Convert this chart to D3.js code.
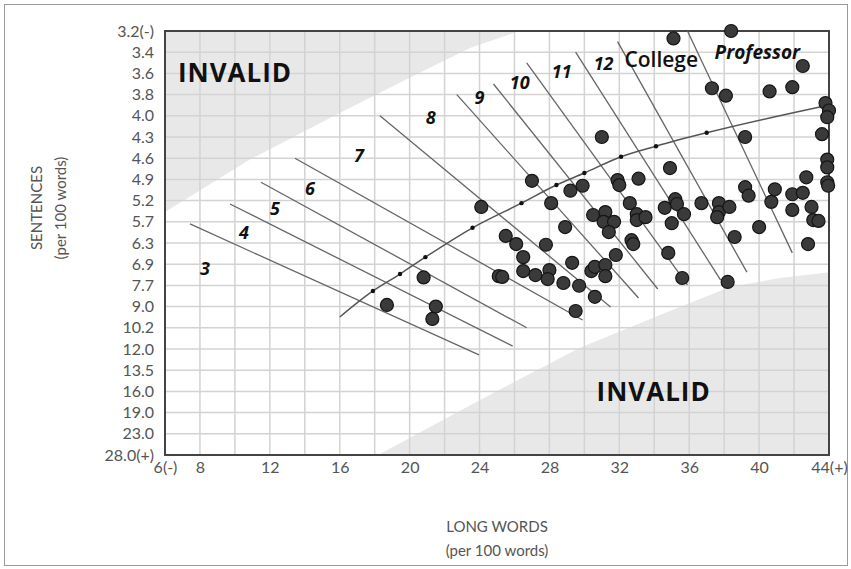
<!DOCTYPE html>
<html>
<head>
<meta charset="utf-8">
<title>Raygor Readability Estimate</title>
<script src="https://d3js.org/d3.v7.min.js"></script>
<style>
  body { margin: 0; background: #fff; }
  svg { display: block; font-family: "Lato", "Noto Sans", sans-serif; }
</style>
</head>
<body>
<svg width="851" height="569"></svg>
<script>
// axis ticks (y axis is not linear, every tick gets the same spacing)
var sentenceTicks = [3.2, 3.4, 3.6, 3.8, 4.0, 4.3, 4.6, 4.9, 5.2, 5.7, 6.3, 6.9, 7.7, 9.0, 10.2, 12.0, 13.5, 16.0, 19.0, 23.0, 28.0];
var sentenceLabels = ["3.2(-)", "3.4", "3.6", "3.8", "4.0", "4.3", "4.6", "4.9", "5.2", "5.7", "6.3", "6.9", "7.7", "9.0", "10.2", "12.0", "13.5", "16.0", "19.0", "23.0", "28.0(+)"];
var wordTicks = [6, 8, 12, 16, 20, 24, 28, 32, 36, 40, 44];
var wordLabels = ["6(-)", "8", "12", "16", "20", "24", "28", "32", "36", "40", "44(+)"];
var wordGrid = [6, 8, 10, 12, 14, 16, 18, 20, 22, 24, 26, 28, 30, 32, 34, 36, 38, 40, 42, 44];

// samples
var longWords = [18.7, 20.8, 21.5, 21.3, 24.1, 25.1, 25.3, 25.5, 26.1, 26.5, 26.5, 27.0, 27.2, 27.8, 28.0, 27.9, 28.1, 28.8, 28.9, 29.2,
  29.9, 29.3, 29.7, 29.5, 30.6, 30.5, 31.2, 31.1, 31.7, 31.4, 31.9, 32.0, 33.1, 32.6, 33.0, 33.0, 33.5, 32.7, 32.8, 31.8,
  30.4, 30.6, 31.2, 31.2, 31.0, 34.6, 35.2, 35.3, 35.7, 35.0, 36.7, 37.7, 37.7, 37.6, 38.3, 38.6, 34.8, 35.6, 38.2, 39.2,
  39.4, 40.9, 41.9, 42.5, 40.7, 41.9, 43.0, 43.1, 43.4, 40.0, 42.8, 42.7, 43.9, 43.9, 43.9, 43.95, 35.1, 38.4, 42.5, 37.3,
  38.1, 40.6, 41.9, 43.8, 44.0, 43.9, 43.6, 39.2, 34.9];
var sentences = [8.9, 7.4, 9.0, 9.7, 5.35, 7.35, 7.38, 6.1, 6.33, 6.7, 7.16, 4.92, 7.31, 6.35, 7.12, 7.46, 5.26, 7.61, 5.85, 5.06,
  4.99, 6.86, 7.72, 9.25, 8.4, 5.54, 5.47, 5.7, 5.7, 5.99, 4.91, 4.98, 4.89, 5.26, 5.52, 5.66, 5.59, 6.22, 6.33, 6.64,
  7.16, 7.0, 6.93, 7.35, 4.3, 5.37, 5.18, 5.28, 5.52, 5.74, 5.26, 5.26, 5.47, 5.59, 5.35, 6.13, 6.58, 7.42, 7.57, 5.01,
  5.13, 5.04, 5.11, 5.09, 5.23, 5.42, 5.35, 5.66, 5.68, 5.85, 6.33, 4.87, 4.62, 4.73, 4.94, 4.99, 3.27, 3.2, 3.53, 3.74,
  3.81, 3.77, 3.73, 3.88, 3.95, 4.02, 4.26, 4.3, 4.74];

// the curve with its small markers
var curveWords = [16.0, 17.9, 19.45, 20.9, 23.6, 26.4, 28.4, 30.0, 32.1, 34.1, 37.0, 43.95];
var curveSentences = [9.59, 8.04, 7.27, 6.7, 5.87, 5.26, 4.98, 4.81, 4.58, 4.43, 4.24, 3.9];

// grade boundary lines
var gradeStartWords = [7.43, 9.72, 11.49, 13.44, 18.3, 22.7, 24.8, 26.7, 29.5, 31.9, 35.9];
var gradeStartSentences = [5.76, 5.28, 4.94, 4.6, 4.0, 3.8, 3.7, 3.5, 3.4, 3.3, 3.2];
var gradeEndWords = [23.97, 25.9, 26.7, 29.9, 31.5, 33.1, 34.2, 35.9, 37.8, 39.3, 41.9];
var gradeEndSentences = [12.42, 11.75, 10.2, 9.76, 9.02, 8.47, 7.92, 7.68, 7.5, 7.2, 6.58];

// grade names
var gradeNames = ["3", "4", "5", "6", "7", "8", "9", "10", "11", "12", "College", "Professor"];
var gradeNameWords = [8.29, 10.52, 12.3, 14.3, 17.1, 21.2, 24.0, 26.3, 28.7, 31.1, 34.4, 39.9];
var gradeNameSentences = [7.04, 5.99, 5.37, 5.02, 4.55, 4.02, 3.82, 3.68, 3.58, 3.5, 3.47, 3.4];

// invalid zones
var upperWords = [6, 10.86, 15.44, 20.0, 23.45, 26.3];
var upperSentences = [5.47, 4.62, 4.03, 3.64, 3.36, 3.2];
var lowerWords = [18.19, 24.03, 29.75, 34.33, 38.33, 41.2, 44];
var lowerSentences = [28.0, 17.2, 11.9, 9.48, 7.8, 7.42, 7.2];

var svg = d3.select("svg"),
    plotLeft = 165, plotRight = 829, plotTop = 31, plotBottom = 455;

var step = (plotBottom - plotTop) / (sentenceTicks.length - 1);

var x = d3.scaleLinear().domain([6, 44]).range([plotLeft, plotRight]);
var y = d3.scaleLinear().domain(sentenceTicks)
          .range(sentenceTicks.map(function(d, i) { return plotTop + i * step; }));

// outer frame
svg.append("rect")
   .attr("x", 4.5).attr("y", 4.5)
   .attr("width", 843).attr("height", 561)
   .attr("fill", "none").attr("stroke", "#9a9a9a");

// invalid zones
var upperPts = upperWords.map(function(d, i) { return [x(d), y(upperSentences[i])]; });
upperPts.push([x(6), y(3.2)]);
svg.append("path")
   .attr("d", d3.line().curve(d3.curveLinearClosed)(upperPts))
   .attr("fill", "#e8e8e8");

var lowerPts = lowerWords.map(function(d, i) { return [x(d), y(lowerSentences[i])]; });
lowerPts.push([x(44), y(28.0)]);
svg.append("path")
   .attr("d", d3.line().curve(d3.curveLinearClosed)(lowerPts))
   .attr("fill", "#e8e8e8");

// grid
svg.append("g").selectAll("line")
   .data(sentenceTicks).enter().append("line")
   .attr("x1", plotLeft).attr("x2", plotRight)
   .attr("y1", function(d) { return y(d); })
   .attr("y2", function(d) { return y(d); })
   .attr("stroke", "#d3d3d3").attr("stroke-width", 1.5);

svg.append("g").selectAll("line")
   .data(wordGrid).enter().append("line")
   .attr("y1", plotTop).attr("y2", plotBottom)
   .attr("x1", function(d) { return x(d); })
   .attr("x2", function(d) { return x(d); })
   .attr("stroke", "#d3d3d3").attr("stroke-width", 1.5);

// plot border
svg.append("rect")
   .attr("x", plotLeft).attr("y", plotTop)
   .attr("width", plotRight - plotLeft).attr("height", plotBottom - plotTop)
   .attr("fill", "none").attr("stroke", "#444").attr("stroke-width", 2);

// invalid labels
svg.append("text").attr("x", x(6.74)).attr("y", y(3.6) + 9)
   .attr("font-size", 26).attr("font-weight", "bold").attr("fill", "#111")
   .attr("letter-spacing", 1)
   .attr("font-family", "Open Sans, sans-serif")
   .text("INVALID");
svg.append("text").attr("x", x(30.7)).attr("y", y(16.1) + 9)
   .attr("font-size", 26).attr("font-weight", "bold").attr("fill", "#111")
   .attr("letter-spacing", 1)
   .attr("font-family", "Open Sans, sans-serif")
   .text("INVALID");

// grade lines
svg.append("g").selectAll("line")
   .data(gradeStartWords).enter().append("line")
   .attr("x1", function(d) { return x(d); })
   .attr("y1", function(d, i) { return y(gradeStartSentences[i]); })
   .attr("x2", function(d, i) { return x(gradeEndWords[i]); })
   .attr("y2", function(d, i) { return y(gradeEndSentences[i]); })
   .attr("stroke", "#666").attr("stroke-width", 1.3);

// grade names
svg.append("g").selectAll("text")
   .data(gradeNames).enter().append("text")
   .attr("x", function(d, i) { return x(gradeNameWords[i]); })
   .attr("y", function(d, i) { return y(gradeNameSentences[i]) + 7; })
   .attr("text-anchor", "middle")
   .attr("font-size", function(d) { return d == "College" ? 21 : d == "Professor" ? 19 : 18; })
   .attr("font-weight", function(d) { return d == "College" ? "600" : "bold"; })
   .attr("font-style", function(d) { return d == "College" ? "normal" : "italic"; })
   .attr("font-family", "Open Sans, sans-serif")
   .attr("fill", "#111")
   .text(function(d) { return d; });

// curve
var curvePts = curveWords.map(function(d, i) { return [x(d), y(curveSentences[i])]; });
svg.append("path")
   .attr("d", d3.line().curve(d3.curveMonotoneX)(curvePts))
   .attr("fill", "none").attr("stroke", "#555").attr("stroke-width", 1.5);

svg.append("g").selectAll("circle")
   .data(curvePts.slice(1, -1)).enter().append("circle")
   .attr("cx", function(d) { return d[0]; })
   .attr("cy", function(d) { return d[1]; })
   .attr("r", 2.2).attr("fill", "#111");

// samples
svg.append("g").selectAll("circle")
   .data(longWords).enter().append("circle")
   .attr("cx", function(d) { return x(d); })
   .attr("cy", function(d, i) { return y(sentences[i]); })
   .attr("r", 6.5)
   .attr("fill", "#3a3a3a").attr("stroke", "#151515").attr("stroke-width", 1.2);

// axes
var yAxis = svg.append("g")
   .attr("transform", "translate(" + (plotLeft - 8) + ",0)")
   .call(d3.axisLeft(y).tickValues(sentenceTicks).tickSize(0)
     .tickFormat(function(d, i) { return sentenceLabels[i]; }));
yAxis.select(".domain").remove();
yAxis.selectAll("text").attr("font-size", 16).attr("fill", "#555").attr("font-family", "Lato, sans-serif");

var xAxis = svg.append("g")
   .attr("transform", "translate(0," + (plotBottom + 4) + ")")
   .call(d3.axisBottom(x).tickValues(wordTicks).tickSize(0)
     .tickFormat(function(d, i) { return wordLabels[i]; }));
xAxis.select(".domain").remove();
xAxis.selectAll("text").attr("font-size", 16).attr("fill", "#555").attr("font-family", "Lato, sans-serif");

// axis titles
svg.append("text").attr("x", 497).attr("y", 532)
   .attr("text-anchor", "middle").attr("font-size", 15).attr("fill", "#555")
   .text("LONG WORDS");
svg.append("text").attr("x", 497).attr("y", 556)
   .attr("text-anchor", "middle").attr("font-size", 15).attr("fill", "#555")
   .text("(per 100 words)");

svg.append("text")
   .attr("transform", "translate(42,208) rotate(-90)")
   .attr("text-anchor", "middle").attr("font-size", 15).attr("fill", "#555")
   .text("SENTENCES");
svg.append("text")
   .attr("transform", "translate(66,208) rotate(-90)")
   .attr("text-anchor", "middle").attr("font-size", 15).attr("fill", "#555")
   .text("(per 100 words)");
</script>
</body>
</html>
